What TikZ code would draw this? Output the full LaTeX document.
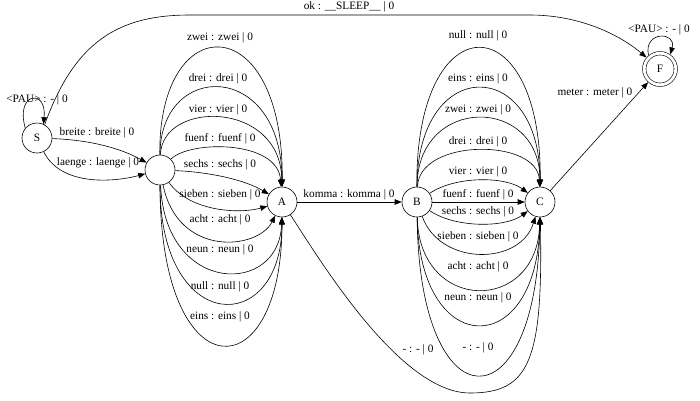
\documentclass[tikz,border=0pt]{standalone}
\usepackage{fontspec}
\setmainfont{Liberation Serif}
\usetikzlibrary{arrows.meta}
\begin{document}
\begin{tikzpicture}[x=1pt,y=-1pt,
  font=\fontsize{11.3}{13}\selectfont,
  st/.style={circle,draw,line width=0.6pt,minimum size=30pt,inner sep=0pt},
  fin/.style={st,double,double distance=2.8pt,minimum size=31.5pt,outer sep=2.1pt},
  e/.style={draw,line width=0.6pt,-{Triangle[length=7pt,width=5.5pt]}},
  lab/.style={inner sep=0pt}]
\useasboundingbox (0,0) rectangle (700,400);
% states
\node[st] (S) at (37,138) {S};
\node[st] (n1) at (160,170) {};
\node[st] (A) at (282,202) {A};
\node[st] (B) at (417,202) {B};
\node[st] (C) at (540,202) {C};
\node[fin] (F) at (660,69) {F};
% S loop and S->F
\draw[e] (S.140) .. controls (15,92) and (47,88) .. (S.65);
\node[lab] (lS) at (37,100) {<PAU> : - | 0};
\draw[e] (S.60) .. controls (75,40) and (120,15) .. (190,15) -- (530,15) .. controls (580,15) and (620,35) .. (F);
\node[lab] (lok) at (349,7) {ok : \_\_SLEEP\_\_ | 0};
% S -> n1
\draw[e] (S) .. controls (90,140) and (120,148) .. (n1);
\node[lab] (lbr) at (97,133) {breite : breite | 0};
\draw[e] (S) .. controls (60,185) and (110,183) .. (n1);
\node[lab] (lla) at (98,163) {laenge : laenge | 0};
% n1 -> A
\draw[e] (n1) .. controls (158,7) and (284,7) .. (A);
\node[lab] (a1) at (220,38) {zwei : zwei | 0};
\draw[e] (n1) .. controls (160,60) and (282,60) .. (A);
\node[lab] (a2) at (218,79) {drei : drei | 0};
\draw[e] (n1) .. controls (162,100) and (281,100) .. (A);
\node[lab] (a3) at (218,110) {vier : vier | 0};
\draw[e] (n1) .. controls (190,140) and (278,140) .. (A);
\node[lab] (a4) at (220,139) {fuenf : fuenf | 0};
\draw[e] (n1) .. controls (210,172) and (245,180) .. (A);
\node[lab] (a5) at (220,165) {sechs : sechs | 0};
\draw[e] (n1) .. controls (190,212) and (240,214) .. (A);
\node[lab] (a6) at (220,195) {sieben : sieben | 0};
\draw[e] (n1) .. controls (178,258) and (258,250) .. (A);
\node[lab] (a7) at (220,220) {acht : acht | 0};
\draw[e] (n1) .. controls (165,296) and (280,296) .. (A);
\node[lab] (a8) at (220,250) {neun : neun | 0};
\draw[e] (n1) .. controls (160,337) and (282,337) .. (A);
\node[lab] (a9) at (220,287) {null : null | 0};
\draw[e] (n1) .. controls (160,393) and (282,393) .. (A);
\node[lab] (a10) at (220,317) {eins : eins | 0};
% A -> B, A -> C
\draw[e] (A) -- (B);
\node[lab] (lko) at (349,195) {komma : komma | 0};
\draw[e] (A) .. controls (320,260) and (400,393) .. (470,393) .. controls (530,393) and (543,360) .. (C);
\node[lab] (lac) at (418,350) {- : - | 0};
% B -> C
\draw[e] (B) .. controls (415,2) and (542,2) .. (C);
\node[lab] (b1) at (478,36) {null : null | 0};
\draw[e] (B) .. controls (417,55) and (540,55) .. (C);
\node[lab] (b2) at (478,79) {eins : eins | 0};
\draw[e] (B) .. controls (417,95) and (540,95) .. (C);
\node[lab] (b3) at (478,110) {zwei : zwei | 0};
\draw[e] (B) .. controls (419,138) and (538,138) .. (C);
\node[lab] (b4) at (478,142) {drei : drei | 0};
\draw[e] (B) .. controls (455,176) and (505,176) .. (C);
\node[lab] (b5) at (478,172) {vier : vier | 0};
\draw[e] (B) -- (C);
\node[lab] (b6) at (478,195) {fuenf : fuenf | 0};
\draw[e] (B) .. controls (455,228) and (505,228) .. (C);
\node[lab] (b7) at (478,212) {sechs : sechs | 0};
\draw[e] (B) .. controls (440,266) and (520,266) .. (C);
\node[lab] (b8) at (478,237) {sieben : sieben | 0};
\draw[e] (B) .. controls (419,314) and (538,314) .. (C);
\node[lab] (b9) at (478,267) {acht : acht | 0};
\draw[e] (B) .. controls (419,361) and (538,361) .. (C);
\node[lab] (b10) at (478,298) {neun : neun | 0};
\draw[e] (B) .. controls (419,428) and (538,428) .. (C);
\node[lab] (b11) at (478,348) {- : - | 0};
% C -> F, F loop
\draw[e] (C) -- (F);
\node[lab] (lme) at (595,93) {meter : meter | 0};
\draw[e] (F.130) .. controls (643,31) and (677,31) .. (F.55);
\node[lab] (lF) at (659,30) {<PAU> : - | 0};
\end{tikzpicture}
\end{document}
